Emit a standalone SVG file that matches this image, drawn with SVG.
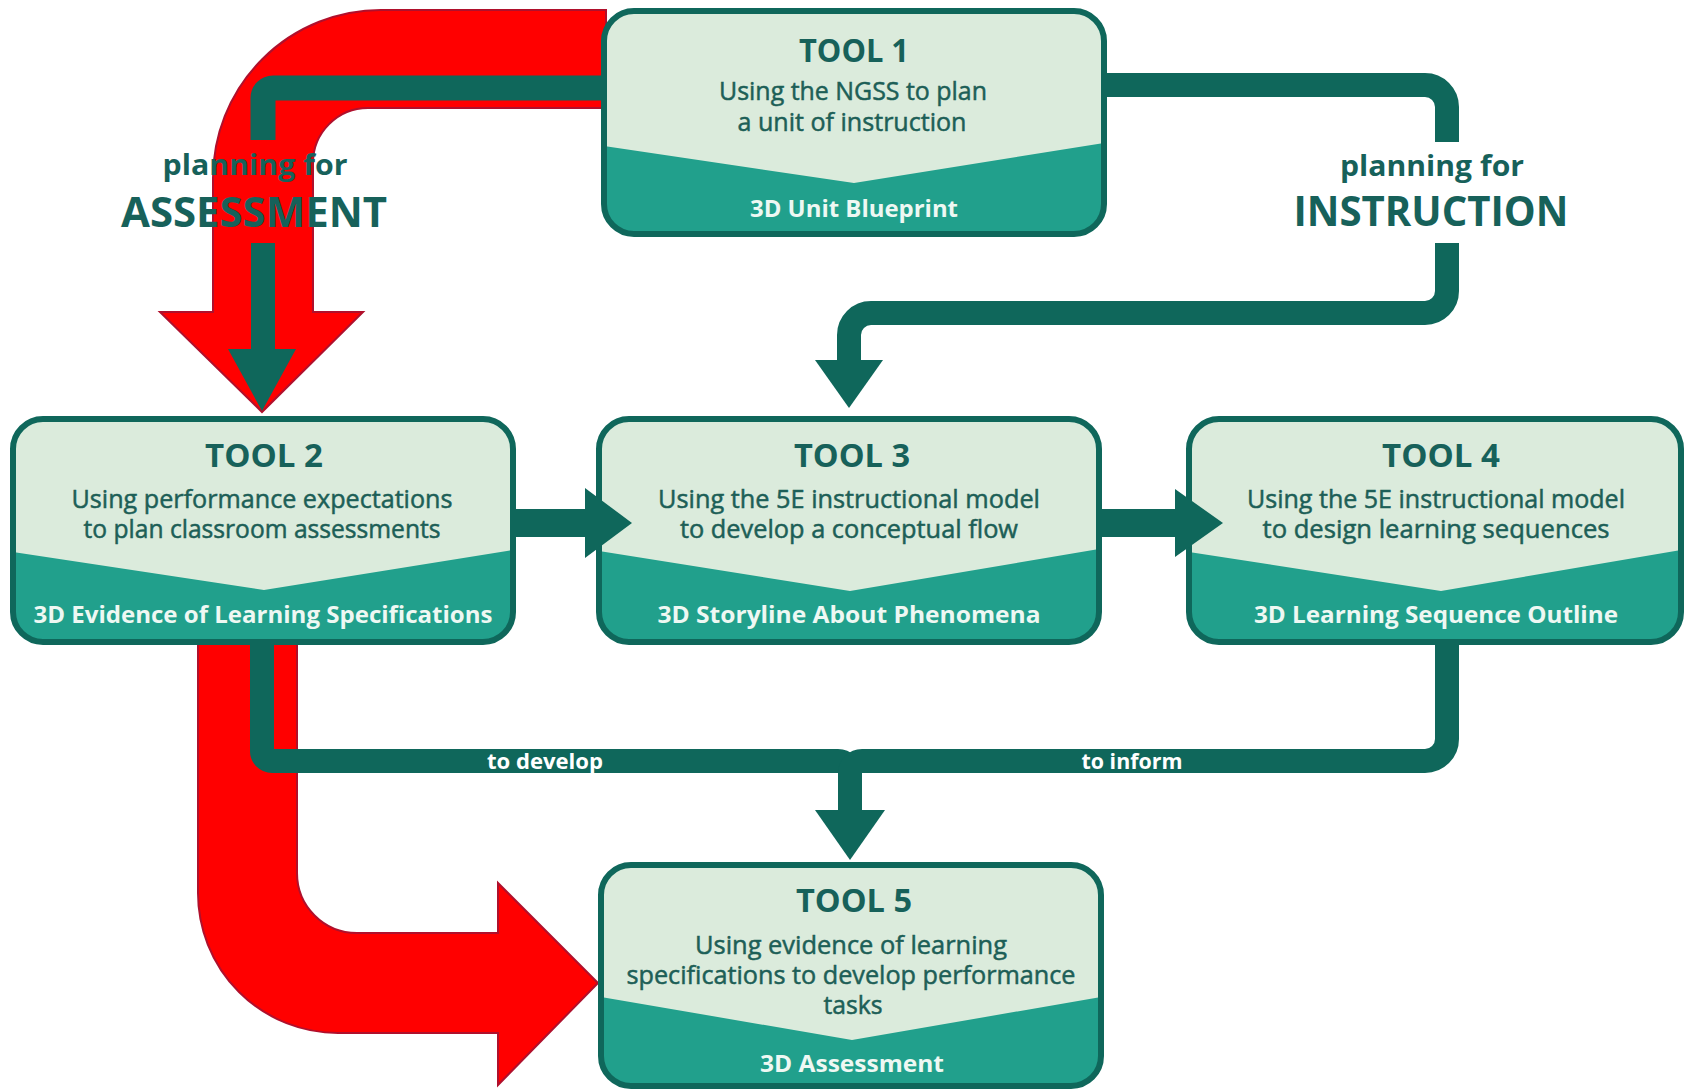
<svg xmlns="http://www.w3.org/2000/svg" width="1684" height="1089" viewBox="0 0 1684 1089">
<defs>
<style>
.bg{fill:#dbebdc}
.low{fill:#21a08c}
.frame{fill:none;stroke:#0f675b;stroke-width:6}
.t{font-family:"Open Sans","Noto Sans","Liberation Sans",sans-serif;text-anchor:middle}
.title{font-weight:700;font-size:32px;fill:#17615a}
.body{font-weight:400;font-size:25px;fill:#1d5f57;stroke:#1d5f57;stroke-width:0.5}
.foot{font-weight:700;font-size:24px;fill:#eef8f3}
.conn{fill:none;stroke:#0f675b;stroke-width:24}
.head{fill:#0f675b}
.red{fill:#ff0000;stroke:#b0102c;stroke-width:2}
.lab1{font-weight:700;font-size:28px;fill:#17615a}
.lab2{font-weight:700;font-size:42px;fill:#17615a}
.small{font-weight:700;font-size:21px;fill:#ffffff}
</style>
</defs>
<rect width="1684" height="1089" fill="#ffffff"/>
<g id="red-arrows">
<path class="red" d="M606 10 H381 A168 168 0 0 0 213 178 V312 H160 L262 412 L363 312 H313 V163 A55 55 0 0 1 368 108 H606 Z"/>
<path class="red" d="M198 640 V893 A140 140 0 0 0 338 1033 H498 V1085 L598 983 L498 883 V933 H357 A60 60 0 0 1 297 873 V640 Z"/>
</g>
<g id="connectors">
<path class="conn" d="M1104 85 H1425 A22 22 0 0 1 1447 107 V142"/>
<path class="conn" d="M1447 243 V291 A22 22 0 0 1 1425 313 H871 A22 22 0 0 0 849 335 V364"/>
<polygon class="head" points="815,360 883,360 849,408"/>
<path class="conn" style="stroke-width:25" d="M606 88 H273 A10 10 0 0 0 263 98 V140"/>
<path class="conn" style="stroke-width:24" d="M263 243 V352"/>
<polygon class="head" points="228,349 296,349 262,411"/>
<path class="conn" style="stroke-width:24" d="M262 640 V751 A10 10 0 0 0 272 761 H838 A12 12 0 0 1 850 773 V815"/>
<path class="conn" style="stroke-width:24" d="M1447 640 V739 A22 22 0 0 1 1425 761 H862 A12 12 0 0 0 850 773"/>
<polygon class="head" points="815,810 885,810 850,860"/>
</g>
<g id="tool1">
<rect class="bg" x="604" y="11" width="500" height="223" rx="30"/>
<path class="low" d="M604 146 L854 183 L1104 143 V204 A30 30 0 0 1 1074 234 H634 A30 30 0 0 1 604 204 Z"/>
<rect class="frame" x="604" y="11" width="500" height="223" rx="30"/>
<text class="t title" x="854" y="62" textLength="110" lengthAdjust="spacingAndGlyphs">TOOL 1</text>
<text class="t body" x="853" y="100" textLength="268" lengthAdjust="spacingAndGlyphs">Using the NGSS to plan</text>
<text class="t body" x="852" y="131" textLength="229" lengthAdjust="spacingAndGlyphs">a unit of instruction</text>
<text class="t foot" x="854" y="217" textLength="208" lengthAdjust="spacingAndGlyphs">3D Unit Blueprint</text>
</g>
<g id="tool2">
<rect class="bg" x="13" y="419" width="500" height="223" rx="30"/>
<path class="low" d="M13 552 L264 590 L513 550 V612 A30 30 0 0 1 483 642 H43 A30 30 0 0 1 13 612 Z"/>
<rect class="frame" x="13" y="419" width="500" height="223" rx="30"/>
<text class="t title" x="264" y="467" textLength="118" lengthAdjust="spacingAndGlyphs">TOOL 2</text>
<text class="t body" x="262" y="508" textLength="381" lengthAdjust="spacingAndGlyphs">Using performance expectations</text>
<text class="t body" x="262" y="538" textLength="357" lengthAdjust="spacingAndGlyphs">to plan classroom assessments</text>
<text class="t foot" x="263" y="623" textLength="459" lengthAdjust="spacingAndGlyphs">3D Evidence of Learning Specifications</text>
</g>
<g id="tool3">
<rect class="bg" x="599" y="419" width="500" height="223" rx="30"/>
<path class="low" d="M599 551 L850 591 L1099 549 V612 A30 30 0 0 1 1069 642 H629 A30 30 0 0 1 599 612 Z"/>
<rect class="frame" x="599" y="419" width="500" height="223" rx="30"/>
<text class="t title" x="852" y="467" textLength="116" lengthAdjust="spacingAndGlyphs">TOOL 3</text>
<text class="t body" x="849" y="508" textLength="382" lengthAdjust="spacingAndGlyphs">Using the 5E instructional model</text>
<text class="t body" x="849" y="538" textLength="338" lengthAdjust="spacingAndGlyphs">to develop a conceptual flow</text>
<text class="t foot" x="849" y="623" textLength="383" lengthAdjust="spacingAndGlyphs">3D Storyline About Phenomena</text>
</g>
<g id="tool4">
<rect class="bg" x="1189" y="419" width="492" height="223" rx="30"/>
<path class="low" d="M1189 552 L1441 591 L1681 550 V612 A30 30 0 0 1 1651 642 H1219 A30 30 0 0 1 1189 612 Z"/>
<rect class="frame" x="1189" y="419" width="492" height="223" rx="30"/>
<text class="t title" x="1441" y="467" textLength="118" lengthAdjust="spacingAndGlyphs">TOOL 4</text>
<text class="t body" x="1436" y="508" textLength="378" lengthAdjust="spacingAndGlyphs">Using the 5E instructional model</text>
<text class="t body" x="1436" y="538" textLength="347" lengthAdjust="spacingAndGlyphs">to design learning sequences</text>
<text class="t foot" x="1436" y="623" textLength="364" lengthAdjust="spacingAndGlyphs">3D Learning Sequence Outline</text>
</g>
<g id="tool5">
<rect class="bg" x="601" y="865" width="500" height="221" rx="30"/>
<path class="low" d="M601 997 L852 1040 L1101 997 V1056 A30 30 0 0 1 1071 1086 H631 A30 30 0 0 1 601 1056 Z"/>
<rect class="frame" x="601" y="865" width="500" height="221" rx="30"/>
<text class="t title" x="854" y="912" textLength="116" lengthAdjust="spacingAndGlyphs">TOOL 5</text>
<text class="t body" x="851" y="954" textLength="312" lengthAdjust="spacingAndGlyphs">Using evidence of learning</text>
<text class="t body" x="851" y="984" textLength="449" lengthAdjust="spacingAndGlyphs">specifications to develop performance</text>
<text class="t body" x="853" y="1014" textLength="59" lengthAdjust="spacingAndGlyphs">tasks</text>
<text class="t foot" x="852" y="1072" textLength="184" lengthAdjust="spacingAndGlyphs">3D Assessment</text>
</g>
<g id="side-arrows">
<path class="conn" style="stroke-width:28" d="M511 523 H590"/>
<polygon class="head" points="585,488 632,523 585,558"/>
<path class="conn" style="stroke-width:28" d="M1097 523 H1178"/>
<polygon class="head" points="1175,489 1223,523 1175,557"/>
</g>
<g id="labels">
<text class="t lab1" x="255" y="175" textLength="185" lengthAdjust="spacingAndGlyphs">planning for</text>
<text class="t lab2" x="254" y="227" textLength="266" lengthAdjust="spacingAndGlyphs">ASSESSMENT</text>
<text class="t lab1" x="1432" y="176" textLength="184" lengthAdjust="spacingAndGlyphs">planning for</text>
<text class="t lab2" x="1431" y="226" textLength="275" lengthAdjust="spacingAndGlyphs">INSTRUCTION</text>
<text class="t small" x="545" y="769" textLength="116" lengthAdjust="spacingAndGlyphs">to develop</text>
<text class="t small" x="1132" y="769" textLength="101" lengthAdjust="spacingAndGlyphs">to inform</text>
</g>
</svg>
